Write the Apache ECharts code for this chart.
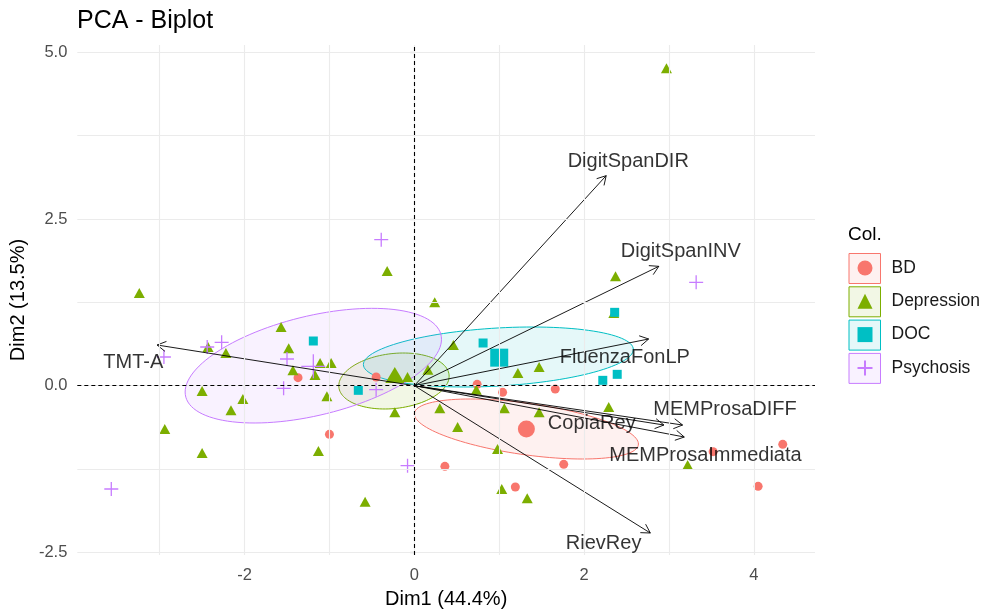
<!DOCTYPE html>
<html>
<head>
<meta charset="utf-8">
<script src="https://cdn.jsdelivr.net/npm/echarts@6/dist/echarts.min.js"></script>
<style>html,body{margin:0;padding:0;background:#fff}#c{width:986px;height:615px}</style>
</head>
<body>
<div id="c"></div>
<script>
// ---------- data ----------
const groups = ['BD', 'Depression', 'DOC', 'Psychosis'];
const groupColors = ['#F8766D', '#7CAE00', '#00BFC4', '#C77CFF'];

const bdPoints = [[-1.37,0.12],[-1.00,-0.73],[-0.45,0.13],[0.74,0.02],[1.04,-0.10],[1.66,-0.05],
  [0.36,-1.21],[1.76,-1.18],[1.19,-1.52],[3.52,-0.99],[4.34,-0.88],[4.05,-1.51]];
const depPoints = [[2.97,4.76],[-3.24,1.39],[-0.32,1.72],[0.24,1.25],[2.37,1.64],[2.35,1.09],
  [-1.57,0.88],[-1.48,0.56],[-2.43,0.58],[-2.22,0.49],[-1.43,0.23],[-1.11,0.34],[-0.98,0.34],
  [-1.17,0.16],[-2.50,-0.08],[-2.02,-0.20],[-2.16,-0.37],[-1.03,-0.16],[-0.08,0.13],[-0.23,-0.40],
  [-2.94,-0.65],[-2.50,-1.01],[-1.13,-0.98],[-0.58,-1.74],[0.46,0.61],[0.16,0.24],[1.22,0.19],
  [1.47,0.28],[0.73,-0.06],[0.30,-0.34],[1.06,-0.34],[1.47,-0.40],[2.29,-0.32],[0.51,-0.62],
  [0.98,-0.95],[3.22,-1.19],[1.03,-1.55],[1.33,-1.69]];
const docPoints = [[-1.19,0.67],[-0.66,-0.07],[0.81,0.64],[2.22,0.08],[2.39,0.17],[2.36,1.10]];
const psyPoints = [[-0.39,2.19],[3.32,1.55],[-2.44,0.58],[-2.27,0.65],[-2.95,0.43],[-1.50,0.40],
  [-1.54,-0.04],[-0.45,-0.06],[-0.08,-1.20],[-3.57,-1.55]];

const groupMeans = [[1.32,-0.65],[-0.23,0.16],[1.00,0.42],[-1.19,0.29]];

// concentration ellipses: [centerX, centerY, halfExtentX, halfExtentY, correlation]
const ellipseParams = [
  [1.32,-0.65,1.32,0.45,-0.50],
  [-0.24,0.07,0.65,0.42,0.17],
  [0.99,0.43,1.59,0.45,0.25],
  [-1.19,0.30,1.51,0.86,0.46]
];

const varNames = ['TMT-A','DigitSpanDIR','DigitSpanINV','FluenzaFonLP','MEMProsaDIFF','CopiaRey','MEMProsaImmediata','RievRey'];
const varX = [-3.03, 2.26, 2.88, 2.76, 3.16, 2.94, 3.18, 2.78];
const varY = [0.61, 3.15, 1.79, 0.70, -0.59, -0.59, -0.77, -2.21];
const varLabelX = [-3.31, 2.52, 3.14, 2.48, 3.66, 2.09, 3.43, 2.23];
const varLabelY = [0.35, 3.36, 2.01, 0.43, -0.36, -0.56, -1.04, -2.36];

const xTicks = [-2, 0, 2, 4];
const yTicks = [-2.5, 0, 2.5, 5];
const xGrid = [-3, -2, -1, 0, 1, 2, 3, 4];
const yGrid = [-2.5, -1.25, 0, 1.25, 2.5, 3.75, 5];

// ---------- chart ----------
const FONT = 'Liberation Sans, Arial, sans-serif';
const crossPath = 'path://M0,5L10,5M5,0L5,10';
const symbols = ['circle', 'triangle', 'rect', crossPath];
const pointSizes = [9, [11, 10], 9, 14];
const meanSizes = [17, [19, 16], 18, 24];
const pointSets = [bdPoints, depPoints, docPoints, psyPoints];

function alpha(hex, a) {
  const r = parseInt(hex.slice(1,3),16), g = parseInt(hex.slice(3,5),16), b = parseInt(hex.slice(5,7),16);
  return 'rgba(' + r + ',' + g + ',' + b + ',' + a + ')';
}

const chart = echarts.init(document.getElementById('c'), null, {renderer: 'canvas'});

const pointSeries = groups.map((g, i) => {
  const isCross = i === 3;
  return {
    name: g,
    type: 'scatter',
    z: 3,
    symbol: symbols[i],
    symbolSize: pointSizes[i],
    itemStyle: isCross
      ? {color: 'rgba(0,0,0,0)', borderColor: groupColors[i], borderWidth: 1.3, opacity: 1}
      : {color: groupColors[i], opacity: 1},
    emphasis: {disabled: true},
    data: pointSets[i].map(p => ({value: p}))
      .concat([{value: groupMeans[i], symbolSize: meanSizes[i]}])
  };
});

const option = {
  animation: false,
  backgroundColor: '#fff',
  title: [
    {text: 'PCA - Biplot', left: 72, top: 4,
     textStyle: {fontFamily: FONT, fontSize: 25, fontWeight: 'normal', color: '#000'}},
    {text: 'Col.', left: 843, top: 220,
     textStyle: {fontFamily: FONT, fontSize: 19, fontWeight: 'normal', color: '#000'}}
  ],
  grid: {left: 75, right: 171, top: 45, bottom: 60, containLabel: false},
  xAxis: {
    type: 'value', min: -3.97, max: 4.72,
    name: 'Dim1 (44.4%)', nameLocation: 'middle', nameGap: 34,
    nameTextStyle: {fontFamily: FONT, fontSize: 20, color: '#000'},
    axisLine: {show: false},
    splitLine: {show: false},
    axisTick: {show: true, length: 4, customValues: xTicks, lineStyle: {color: '#333', width: 1.1}},
    axisLabel: {customValues: xTicks, margin: 12, fontFamily: FONT, fontSize: 16.5, color: '#4D4D4D',
      formatter: v => String(v)}
  },
  yAxis: {
    type: 'value', min: -2.54, max: 5.11,
    name: 'Dim2 (13.5%)', nameLocation: 'middle', nameGap: 47, nameRotate: 90,
    nameTextStyle: {fontFamily: FONT, fontSize: 20, color: '#000'},
    axisLine: {show: false},
    splitLine: {show: false},
    axisTick: {show: true, length: 4, customValues: yTicks, lineStyle: {color: '#333', width: 1.1}},
    axisLabel: {customValues: yTicks, margin: 10, fontFamily: FONT, fontSize: 16.5, color: '#4D4D4D',
      formatter: v => v.toFixed(1)}
  },
  legend: {
    orient: 'vertical', left: 851.5, top: 253,
    itemWidth: 15, itemHeight: 15, itemGap: 13.3,
    textStyle: {fontFamily: FONT, fontSize: 17.5, color: '#1A1A1A', lineHeight: 20, padding: [0,0,0,14]},
    data: groups.map((g, i) => ({name: g, icon: symbols[i]}))
  },
  graphic: groups.map((g, i) => ({
    type: 'rect', left: 848.5, top: 253 + i * 33.3, z: -1,
    shape: {width: 31.5, height: 30},
    style: {fill: alpha(groupColors[i], 0.1), stroke: groupColors[i], lineWidth: 1}
  })),
  series: [
    {
      type: 'scatter', z: 0, data: [], silent: true,
      markLine: {
        silent: true, symbol: 'none', label: {show: false}, animation: false,
        lineStyle: {color: '#EBEBEB', width: 1.1, type: 'solid'},
        emphasis: {disabled: true},
        data: xGrid.map(v => ({xAxis: v})).concat(yGrid.map(v => ({yAxis: v})))
      }
    },
    {
      type: 'custom', z: 1, silent: true,
      data: ellipseParams.map(e => e.slice()),
      encode: {x: 0, y: 1},
      renderItem: function (params, api) {
        const i = params.dataIndex;
        const e = ellipseParams[i];
        const pts = [];
        const s = Math.sqrt(1 - e[4] * e[4]);
        for (let k = 0; k <= 120; k++) {
          const t = 2 * Math.PI * k / 120;
          const x = e[0] + e[2] * Math.cos(t);
          const y = e[1] + e[3] * (e[4] * Math.cos(t) + s * Math.sin(t));
          pts.push(api.coord([x, y]));
        }
        return {type: 'polygon', shape: {points: pts},
          style: {fill: alpha(groupColors[i], 0.1), stroke: groupColors[i], lineWidth: 1}};
      }
    },
    {
      type: 'scatter', z: 2, data: [], silent: true,
      markLine: {
        silent: true, symbol: 'none', label: {show: false}, animation: false,
        lineStyle: {color: '#000', width: 1.1, type: [4, 3]},
        data: [{xAxis: 0}, {yAxis: 0}]
      }
    },
    ...pointSeries,
    {
      type: 'custom', z: 4, silent: true,
      data: varX.map((x, i) => [x, varY[i]]),
      encode: {x: 0, y: 1},
      renderItem: function (params, api) {
        const o = api.coord([0, 0]);
        const p = api.coord([api.value(0), api.value(1)]);
        const ang = Math.atan2(p[1] - o[1], p[0] - o[0]);
        const L = 10, a = Math.PI / 6;
        const h1 = [p[0] - L * Math.cos(ang - a), p[1] - L * Math.sin(ang - a)];
        const h2 = [p[0] - L * Math.cos(ang + a), p[1] - L * Math.sin(ang + a)];
        return {type: 'group', children: [
          {type: 'line', shape: {x1: o[0], y1: o[1], x2: p[0], y2: p[1]},
           style: {stroke: '#000', lineWidth: 0.9}},
          {type: 'polyline', shape: {points: [h1, p, h2]},
           style: {stroke: '#000', lineWidth: 0.9, fill: null}}
        ]};
      }
    },
    {
      type: 'scatter', z: 5, silent: true, symbolSize: 0,
      label: {show: true, position: 'inside', formatter: p => p.name,
        fontFamily: FONT, fontSize: 20, color: '#000'},
      data: varNames.map((n, i) => ({name: n, value: [varLabelX[i], varLabelY[i]]}))
    }
  ]
};

chart.setOption(option);
</script>
</body>
</html>
